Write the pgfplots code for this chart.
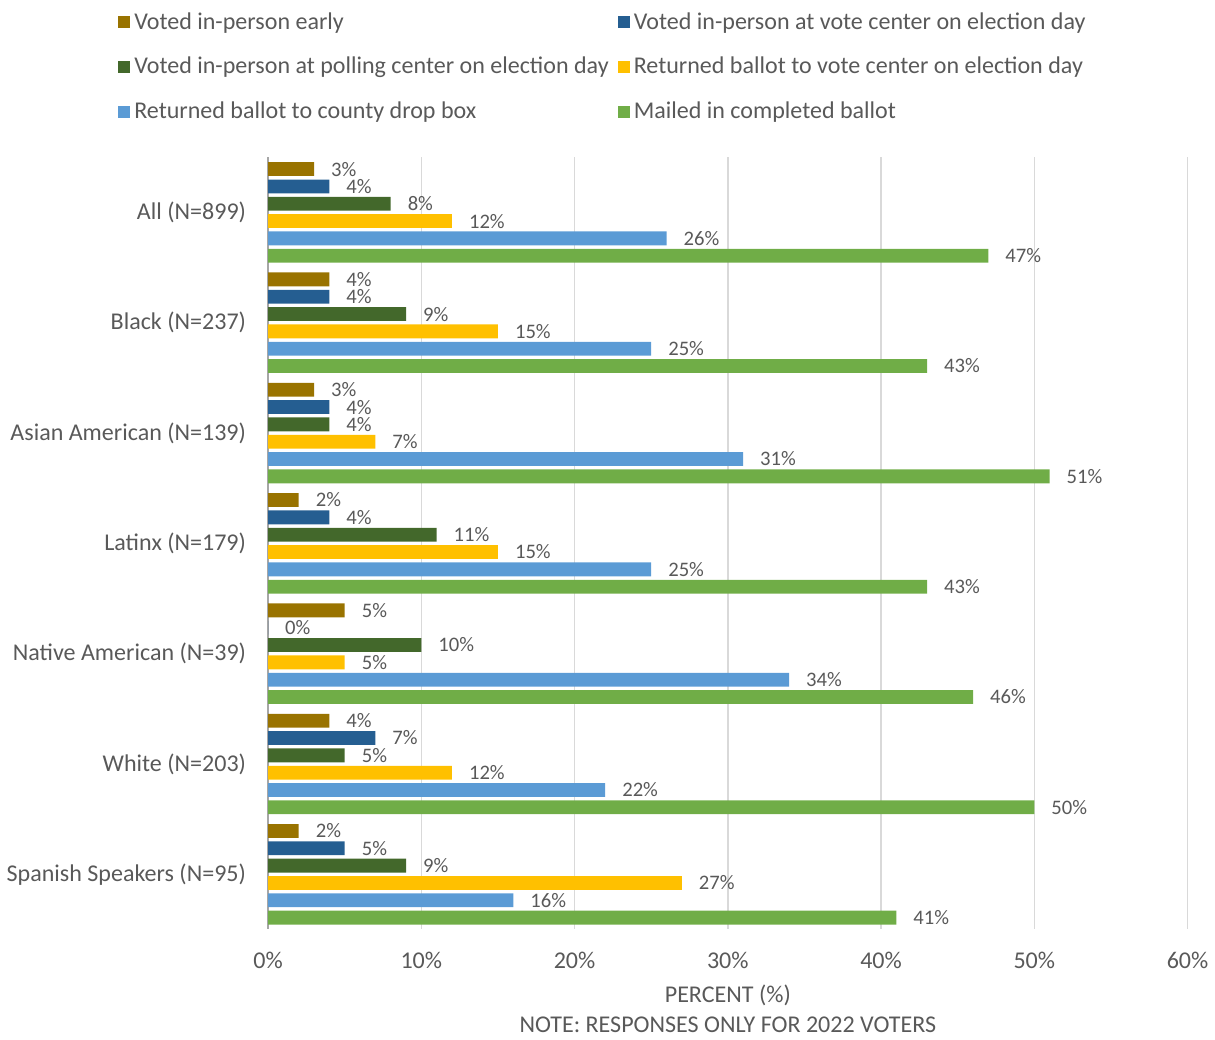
\documentclass[border=0pt]{standalone}
\usepackage{pgfplots}
\pgfplotsset{compat=1.18}
\usepackage{fontspec}
\setmainfont{Carlito}
\definecolor{txt}{HTML}{595959}
\definecolor{cA}{HTML}{997300}
\definecolor{cB}{HTML}{255E91}
\definecolor{cC}{HTML}{43682B}
\definecolor{cD}{HTML}{FFC000}
\definecolor{cE}{HTML}{5B9BD5}
\definecolor{cF}{HTML}{70AD47}
\definecolor{gridc}{HTML}{D9D9D9}
\begin{document}
\begin{tikzpicture}
\begin{axis}[
  scale only axis,
  width=459pt, height=385.5pt,
  xbar, bar width=6.9pt,
  xmin=0, xmax=60,
  ymin=-0.5, ymax=6.5,
  y dir=reverse,
  xtick={0,10,...,60},
  xticklabel={\pgfmathprintnumber{\tick}\%},
  ytick={0,...,6},
  yticklabels={All (N=899),Black (N=237),Asian American (N=139),Latinx (N=179),Native American (N=39),White (N=203),Spanish Speakers (N=95)},
  /pgf/number format/assume math mode=true,
  major tick length=0pt,
  tick label style={font=\fontsize{12}{14}\selectfont, text=txt},
  x tick label style={yshift=-8pt},
  y tick label style={xshift=-7.5pt},
  xmajorgrids, ymajorgrids=false,
  major x grid style={draw=gridc, line width=0.7pt},
  axis line style={draw=none},
  xlabel={PERCENT (\%)\\NOTE: RESPONSES ONLY FOR 2022 VOTERS},
  xlabel style={align=center, font=\fontsize{12}{15}\selectfont, text=txt, yshift=-1pt},
  nodes near coords={\pgfmathprintnumber{\pgfplotspointmeta}\%},
  nodes near coords style={font=\fontsize{10.3}{11}\selectfont, text=txt, anchor=west, xshift=5pt, inner ysep=0pt},
  legend cell align=left,
  legend columns=2,
  legend style={draw=none, fill=none, font=\fontsize{12}{14}\selectfont, text=txt,
    at={(rel axis cs:0,1)}, anchor=north west, xshift=-78pt, yshift=76.5pt,
    /tikz/every even column/.append style={column sep=2.5pt},
    row sep=8.5pt},
  legend image code/.code={\fill[#1] (0pt,-3pt) rectangle (6pt,3pt);},
  clip=false,
]
\draw[gray!70, line width=0.7pt] (axis cs:0,-0.5) -- (axis cs:0,6.5);
\addplot[fill=cA, draw=none, bar shift=21.625pt] coordinates {(3,0) (4,1) (3,2) (2,3) (5,4) (4,5) (2,6)};
\addplot[fill=cB, draw=none, bar shift=12.975pt] coordinates {(4,0) (4,1) (4,2) (4,3) (0,4) (7,5) (5,6)};
\addplot[fill=cC, draw=none, bar shift=4.325pt] coordinates {(8,0) (9,1) (4,2) (11,3) (10,4) (5,5) (9,6)};
\addplot[fill=cD, draw=none, bar shift=-4.325pt] coordinates {(12,0) (15,1) (7,2) (15,3) (5,4) (12,5) (27,6)};
\addplot[fill=cE, draw=none, bar shift=-12.975pt] coordinates {(26,0) (25,1) (31,2) (25,3) (34,4) (22,5) (16,6)};
\addplot[fill=cF, draw=none, bar shift=-21.625pt] coordinates {(47,0) (43,1) (51,2) (43,3) (46,4) (50,5) (41,6)};
\legend{Voted in-person early, Voted in-person at vote center on election day, Voted in-person at polling center on election day, Returned ballot to vote center on election day, Returned ballot to county drop box, Mailed in completed ballot}
\end{axis}
\path (current axis.north west) ++(0pt,78.5pt);
\end{tikzpicture}
\end{document}
